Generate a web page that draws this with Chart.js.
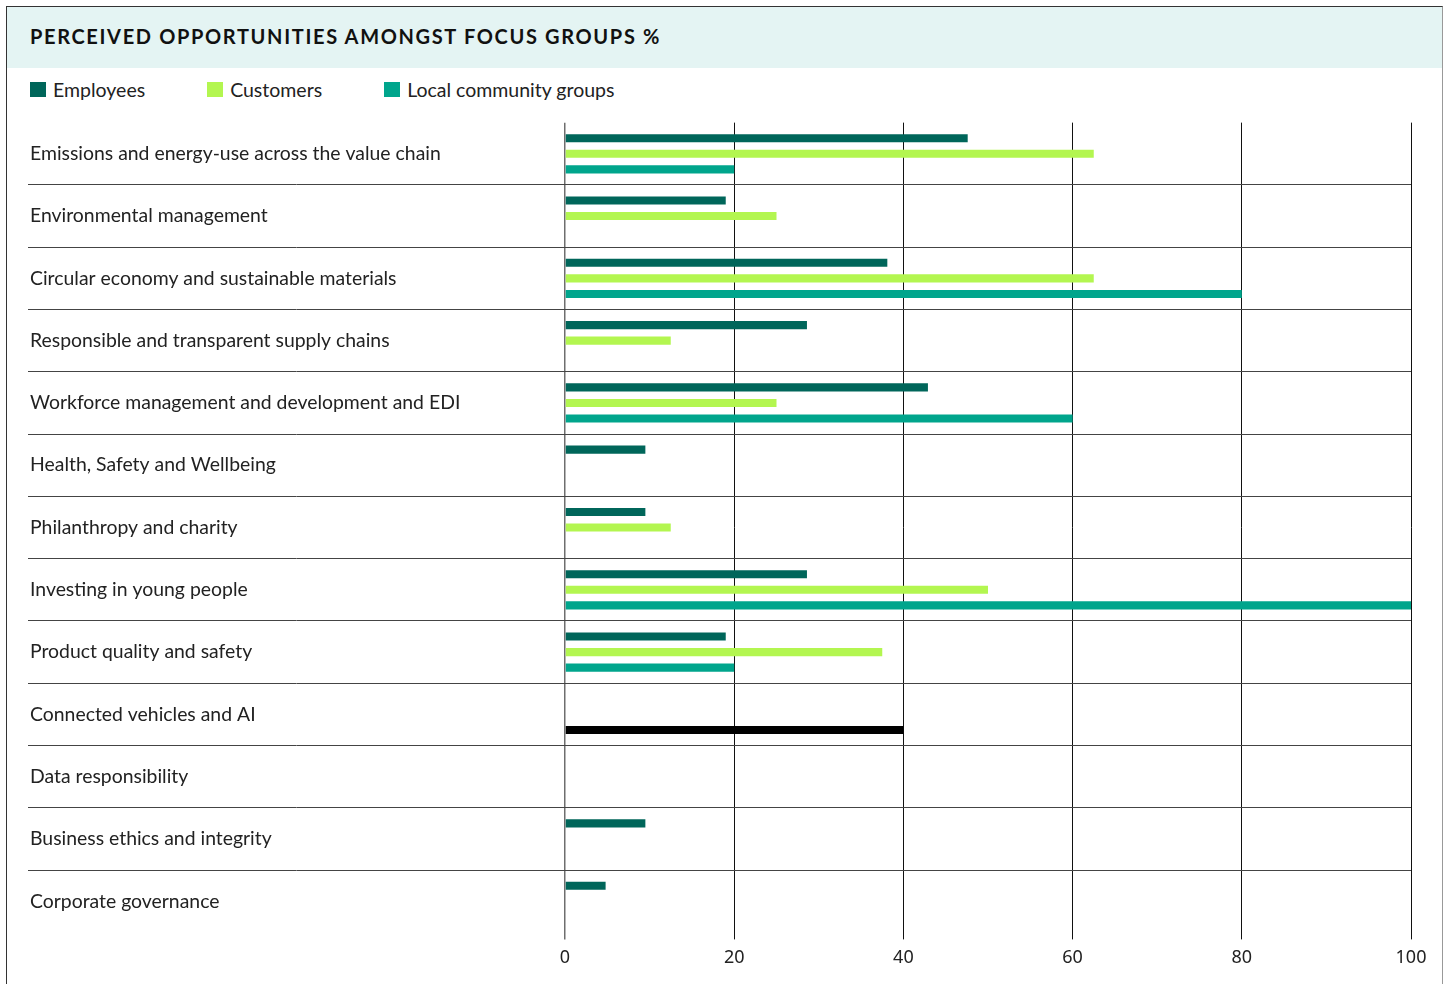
<!DOCTYPE html>
<html>
<head>
<meta charset="utf-8">
<script src="https://cdn.jsdelivr.net/npm/chart.js@4.4.1/dist/chart.umd.min.js"></script>
<style>
    body { margin: 0; background: #fff; font-family: Lato, sans-serif; }
    #frame {
        position: absolute; left: 6px; top: 6px; width: 1435px; height: 1000px;
        border: 1px solid #333; border-right-color: #999;
    }
    #title {
        position: absolute; left: 7px; top: 7px; width: 1435px; height: 61px;
        background: #e4f4f3; box-sizing: border-box; padding: 17px 0 0 23px;
        font: bold 20px Lato, sans-serif; letter-spacing: 1.65px; color: #111;
    }
    #legend {
        position: absolute; left: 30px; top: 78px; display: flex;
        font: 19.5px Lato, sans-serif; color: #222;
    }
    #legend .item { display: flex; align-items: center; margin-right: 62px; }
    #legend .box { width: 16px; height: 15px; margin-right: 7px; }
    #wrap { position: absolute; left: 0; top: 108px; }
</style>
</head>
<body>
<div id="frame"></div>
<div id="title">PERCEIVED OPPORTUNITIES AMONGST FOCUS GROUPS %</div>
<div id="legend"></div>
<div id="wrap"><canvas id="focusChart" width="1446" height="876"></canvas></div>
<script>
var categories = [
    'Emissions and energy-use across the value chain',
    'Environmental management',
    'Circular economy and sustainable materials',
    'Responsible and transparent supply chains',
    'Workforce management and development and EDI',
    'Health, Safety and Wellbeing',
    'Philanthropy and charity',
    'Investing in young people',
    'Product quality and safety',
    'Connected vehicles and AI',
    'Data responsibility',
    'Business ethics and integrity',
    'Corporate governance'
];
var employees = [47.6, 19.0, 38.1, 28.6, 42.9, 9.5, 9.5, 28.6, 19.0, null, null, 9.5, 4.8];
var customers = [62.5, 25, 62.5, 12.5, 25, null, 12.5, 50, 37.5, null, null, null, null];
var localGroups = [20, null, 80, null, 60, null, null, 100, 20, 40, null, null, null];
var xTicks = [0, 20, 40, 60, 80, 100];

document.addEventListener('DOMContentLoaded', function () {
    var ctx = document.getElementById('focusChart').getContext('2d');
    var labelFont = { family: 'Lato', size: 19.4 };

    var chart = new Chart(ctx, {
        type: 'bar',
        data: {
            labels: categories,
            datasets: [{
                label: 'Employees',
                data: employees,
                backgroundColor: '#00665a'
            }, {
                label: 'Customers',
                data: customers,
                backgroundColor: '#b3f650'
            }, {
                label: 'Local community groups',
                data: localGroups,
                // the connected vehicles bar is black in the original
                backgroundColor: function (c) {
                    return c.dataIndex === 9 ? '#000000' : '#00a58c';
                }
            }]
        },
        options: {
            indexAxis: 'y',
            responsive: false,
            animation: false,
            categoryPercentage: 0.75,
            barPercentage: 0.52,
            borderWidth: 0,
            layout: { padding: { left: 30, right: 35, top: 7, bottom: 7 } },
            plugins: {
                legend: { display: false },
                tooltip: { enabled: false }
            },
            scales: {
                x: {
                    min: 0,
                    max: 100,
                    afterBuildTicks: function (axis) {
                        axis.ticks = xTicks.map(function (v) { return { value: v }; });
                    },
                    border: { display: false },
                    grid: {
                        color: function (c) {
                            return c.tick && c.tick.value === 0 ? '#6e6e6e' : '#111';
                        },
                        lineWidth: function (c) {
                            return c.tick && c.tick.value === 0 ? 1.5 : 1;
                        },
                        tickLength: 7
                    },
                    ticks: {
                        font: { family: 'Noto Sans', size: 18 },
                        color: '#222',
                        padding: 8,
                        maxRotation: 0
                    }
                },
                y: {
                    afterFit: function (axis) { axis.width = 535; },
                    border: { display: false },
                    grid: {
                        color: function (c) {
                            return c.type === 'tick' && c.index > 0 ? '#444' : 'rgba(0,0,0,0)';
                        },
                        tickLength: 537
                    },
                    ticks: {
                        crossAlign: 'far',
                        font: labelFont,
                        color: '#222',
                        autoSkip: false
                    }
                }
            }
        }
    });

    // html legend built from the chart's own legend items
    var legendEl = document.getElementById('legend');
    chart.options.plugins.legend.labels.generateLabels(chart).forEach(function (item) {
        var el = document.createElement('div');
        el.className = 'item';
        var box = document.createElement('span');
        box.className = 'box';
        box.style.background = item.fillStyle;
        el.appendChild(box);
        el.appendChild(document.createTextNode(item.text));
        legendEl.appendChild(el);
    });
});
</script>
</body>
</html>
